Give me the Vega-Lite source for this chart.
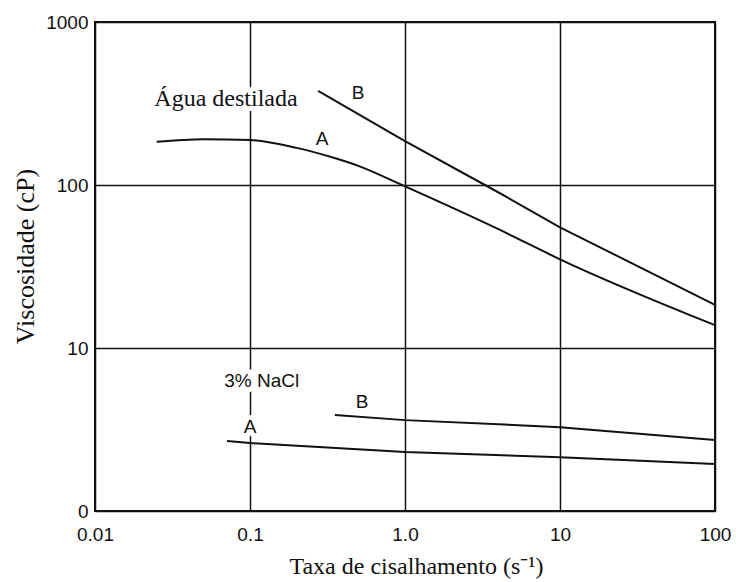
{
  "$schema": "https://vega.github.io/schema/vega-lite/v6.json",
  "width": 620,
  "height": 489,
  "autosize": "none",
  "padding": {"left": 95, "top": 22, "right": 21, "bottom": 71},
  "background": "white",
  "config": {
    "view": {"stroke": "#111", "strokeWidth": 2},
    "axis": {
      "domain": false,
      "ticks": false,
      "tickSize": 0,
      "grid": true,
      "gridColor": "#111",
      "gridOpacity": 1,
      "gridWidth": 1.5,
      "labelFont": "Liberation Sans",
      "labelFontSize": 19,
      "labelColor": "#111",
      "labelOverlap": false,
      "labelFlush": false,
      "titleFont": "Liberation Serif",
      "titleFontWeight": "normal",
      "titleColor": "#111"
    }
  },
  "datasets": {
    "curves": [
      {"series": "agua_A", "rate": 0.025, "visc": 184},
      {"series": "agua_A", "rate": 0.05, "visc": 191},
      {"series": "agua_A", "rate": 0.1, "visc": 189},
      {"series": "agua_A", "rate": 0.2, "visc": 169},
      {"series": "agua_A", "rate": 0.33, "visc": 149},
      {"series": "agua_A", "rate": 0.5, "visc": 131},
      {"series": "agua_A", "rate": 1.0, "visc": 98},
      {"series": "agua_A", "rate": 4.1, "visc": 53},
      {"series": "agua_A", "rate": 10, "visc": 35},
      {"series": "agua_A", "rate": 100, "visc": 13.8},
      {"series": "agua_B", "rate": 0.275, "visc": 378},
      {"series": "agua_B", "rate": 1.0, "visc": 186},
      {"series": "agua_B", "rate": 4.1, "visc": 89},
      {"series": "agua_B", "rate": 10, "visc": 55},
      {"series": "agua_B", "rate": 100, "visc": 18.4},
      {"series": "nacl_A", "rate": 0.071, "visc": 2.69},
      {"series": "nacl_A", "rate": 0.1, "visc": 2.61},
      {"series": "nacl_A", "rate": 1.0, "visc": 2.30},
      {"series": "nacl_A", "rate": 10, "visc": 2.14},
      {"series": "nacl_A", "rate": 100, "visc": 1.94},
      {"series": "nacl_B", "rate": 0.353, "visc": 3.88},
      {"series": "nacl_B", "rate": 1.0, "visc": 3.61},
      {"series": "nacl_B", "rate": 10, "visc": 3.27},
      {"series": "nacl_B", "rate": 100, "visc": 2.73}
    ],
    "tags": [
      {"rate": 0.498, "visc": 366, "text": "B"},
      {"rate": 0.292, "visc": 191, "text": "A"},
      {"rate": 0.119, "visc": 6.28, "text": "3% NaCl"},
      {"rate": 0.528, "visc": 4.67, "text": "B"},
      {"rate": 0.1, "visc": 3.27, "text": "A"}
    ],
    "groups": [
      {"rate": 0.07, "visc": 305, "text": "Água destilada"}
    ]
  },
  "encoding": {
    "x": {
      "field": "rate",
      "type": "quantitative",
      "scale": {"type": "log", "domain": [0.01, 100], "nice": false},
      "axis": {
        "values": [0.01, 0.1, 1, 10, 100],
        "labelExpr": "datum.value < 0.05 ? '0.01' : datum.value < 0.5 ? '0.1' : datum.value < 5 ? '1.0' : datum.value < 50 ? '10' : '100'",
        "labelAngle": 0,
        "labelPadding": 14,
        "title": "Taxa de cisalhamento (s⁻¹)",
        "titleFontSize": 24,
        "titleX": 321,
        "titleY": 55,
        "titleAlign": "center",
        "titleBaseline": "middle"
      }
    },
    "y": {
      "field": "visc",
      "type": "quantitative",
      "scale": {"type": "log", "domain": [1, 1000], "nice": false},
      "axis": {
        "values": [1, 10, 100, 1000],
        "labelExpr": "datum.value < 5 ? '0' : datum.value < 50 ? '10' : datum.value < 500 ? '100' : '1000'",
        "labelPadding": 7,
        "labelBaseline": "middle",
        "title": "Viscosidade (cP)",
        "titleFontSize": 26,
        "titleAngle": 270,
        "titleX": -70,
        "titleY": 234,
        "titleAlign": "center",
        "titleBaseline": "middle"
      }
    }
  },
  "layer": [
    {
      "data": {"name": "tags"},
      "mark": {"type": "text", "font": "Liberation Sans", "fontSize": 19, "baseline": "middle", "align": "center", "color": "white", "stroke": "white", "strokeWidth": 10, "strokeJoin": "round"},
      "encoding": {"text": {"field": "text"}}
    },
    {
      "data": {"name": "groups"},
      "mark": {"type": "text", "font": "Liberation Serif", "fontSize": 24, "baseline": "alphabetic", "align": "center", "color": "white", "stroke": "white", "strokeWidth": 10, "strokeJoin": "round"},
      "encoding": {"text": {"field": "text"}}
    },
    {
      "data": {"name": "curves"},
      "transform": [{"filter": "datum.series === 'agua_A'"}],
      "mark": {"type": "line", "color": "#111", "strokeWidth": 2, "interpolate": "monotone"},
      "encoding": {"detail": {"field": "series"}}
    },
    {
      "data": {"name": "curves"},
      "transform": [{"filter": "datum.series !== 'agua_A'"}],
      "mark": {"type": "line", "color": "#111", "strokeWidth": 2, "interpolate": "linear"},
      "encoding": {"detail": {"field": "series"}}
    },
    {
      "data": {"name": "tags"},
      "mark": {"type": "text", "font": "Liberation Sans", "fontSize": 19, "baseline": "middle", "align": "center", "color": "#111"},
      "encoding": {"text": {"field": "text"}}
    },
    {
      "data": {"name": "groups"},
      "mark": {"type": "text", "font": "Liberation Serif", "fontSize": 24, "baseline": "alphabetic", "align": "center", "color": "#111"},
      "encoding": {"text": {"field": "text"}}
    }
  ]
}
